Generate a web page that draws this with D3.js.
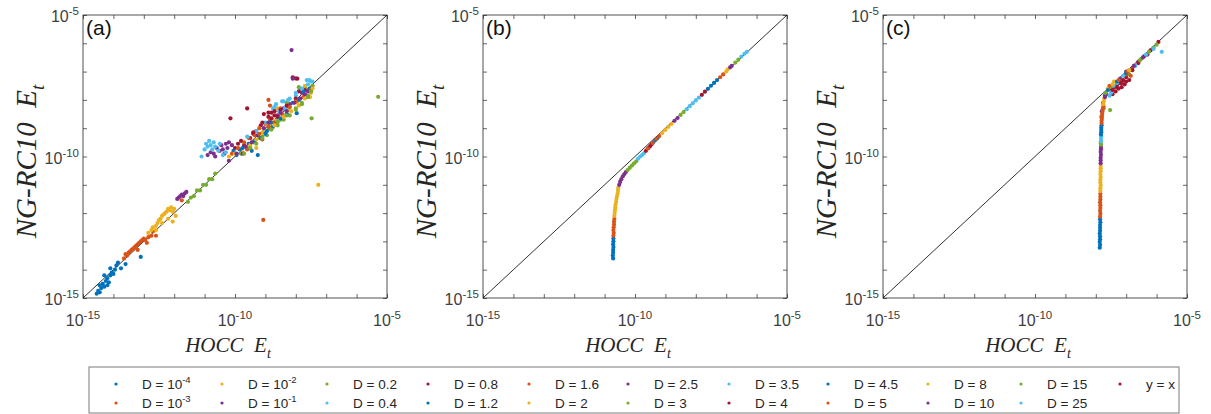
<!DOCTYPE html>
<html><head><meta charset="utf-8">
<script src="https://cdn.jsdelivr.net/npm/d3@7"></script>
<style>body{margin:0;background:#fff;}svg{display:block;}</style>
</head><body>
<svg id="chart" width="1211" height="414"></svg>
<script>
// ---------- DATA (values are log10 exponents) ----------
const legendLabels = ["D = 10^-4","D = 10^-3","D = 10^-2","D = 10^-1","D = 0.2","D = 0.4","D = 0.8","D = 1.2","D = 1.6","D = 2","D = 2.5","D = 3","D = 3.5","D = 4","D = 4.5","D = 5","D = 8","D = 10","D = 15","D = 25","y = x"];
const palette = ["#0072BD","#D95319","#EDB120","#7E2F8E","#77AC30","#4DBEEE","#A2142F"];
const panelLetters = ["(a)","(b)","(c)"];
const decadeExps = [-15,-14,-13,-12,-11,-10,-9,-8,-7,-6,-5];
const labelExps = [-15,-10,-5];
const xTitle = ["HOCC", "E", "t"];
const yTitle = ["NG-RC10", "E", "t"];

const panelA = [
 [[-14.55,-14.85],[-14.5,-14.75],[-14.45,-14.8],[-14.4,-14.65],[-14.35,-14.5],[-14.3,-14.6],[-14.25,-14.4],[-14.2,-14.3],[-14.15,-14.45],[-14.1,-14.2],[-14.05,-14.1],[-14.0,-14.15],[-13.95,-14.0],[-13.9,-13.85],[-13.85,-13.75],[-14.3,-14.2],[-14.1,-13.95],[-13.75,-13.95],[-13.6,-13.8],[-13.1,-13.55],[-14.45,-14.55],[-14.2,-14.55]],
 [[-13.65,-13.6],[-13.6,-13.45],[-13.55,-13.5],[-13.5,-13.4],[-13.45,-13.35],[-13.4,-13.3],[-13.35,-13.25],[-13.3,-13.2],[-13.25,-13.15],[-13.2,-13.1],[-13.15,-13.05],[-13.1,-13.0],[-13.05,-12.95],[-13.0,-12.9],[-12.95,-12.95],[-12.85,-12.85],[-12.75,-12.8],[-12.7,-12.65],[-13.2,-13.3],[-12.9,-13.05],[-12.6,-12.8],[-9.07,-12.24],[-11.75,-11.55]],
 [[-12.85,-12.7],[-12.75,-12.6],[-12.7,-12.5],[-12.6,-12.45],[-12.55,-12.35],[-12.5,-12.25],[-12.45,-12.2],[-12.4,-12.1],[-12.35,-12.05],[-12.3,-12.0],[-12.25,-11.95],[-12.2,-11.85],[-12.15,-11.9],[-12.1,-11.8],[-12.05,-11.95],[-12.0,-11.85],[-12.4,-12.35],[-12.2,-12.2],[-12.6,-12.6],[-11.95,-12.1],[-12.05,-12.3],[-7.26,-11.0],[-9.3,-9.7],[-8.6,-8.3]],
 [[-11.9,-11.5],[-11.85,-11.45],[-11.8,-11.4],[-11.75,-11.35],[-11.7,-11.4],[-11.65,-11.3],[-11.6,-11.25],[-10.9,-9.95],[-10.8,-9.85],[-10.7,-9.9],[-10.6,-9.7],[-10.5,-9.8],[-10.45,-9.6],[-10.4,-9.75],[-10.3,-9.55],[-10.25,-9.7],[-10.2,-9.5],[-10.1,-9.6],[-10.65,-10.0],[-10.35,-9.9],[-8.14,-6.24],[-8.0,-7.24]],
 [[-11.55,-11.6],[-11.45,-11.45],[-11.35,-11.4],[-11.25,-11.2],[-11.15,-11.2],[-11.05,-11.0],[-10.95,-11.0],[-10.85,-10.8],[-10.75,-10.8],[-10.65,-10.6],[-9.8,-9.9],[-9.6,-9.7],[-9.4,-9.5],[-9.2,-9.35],[-9.0,-9.15],[-8.9,-9.05],[-8.8,-8.95],[-8.6,-8.8],[-8.5,-8.7],[-8.3,-8.5],[-9.5,-9.7],[-9.1,-9.3],[-5.29,-7.89],[-7.48,-8.65],[-7.7,-7.55]],
 [[-11.0,-9.75],[-10.95,-9.55],[-10.9,-9.65],[-10.85,-9.45],[-10.8,-9.6],[-10.75,-9.75],[-10.7,-9.5],[-10.65,-9.65],[-10.55,-9.8],[-10.5,-9.55],[-10.4,-9.95],[-10.3,-9.85],[-11.1,-10.0]],
 [[-10.0,-9.7],[-9.9,-9.55],[-9.8,-9.45],[-9.7,-9.6],[-9.6,-8.3],[-9.5,-9.35],[-9.4,-9.2],[-9.3,-9.1],[-9.15,-8.9],[-9.05,-8.5],[-8.9,-8.6],[-8.8,-8.45],[-8.7,-8.55],[-10.15,-8.65],[-8.1,-7.2]],
 [[-10.05,-9.8],[-9.95,-9.95],[-9.85,-9.75],[-9.75,-9.7],[-9.55,-9.55],[-9.35,-9.45],[-9.15,-9.35],[-8.95,-9.1],[-8.75,-8.95],[-9.45,-9.8],[-9.25,-9.95],[-7.97,-8.47]],
 [[-10.1,-9.9],[-9.9,-9.7],[-9.7,-9.5],[-9.55,-9.35],[-9.35,-9.25],[-9.2,-9.0],[-9.0,-8.85],[-8.85,-8.7],[-9.6,-9.75],[-9.1,-9.4],[-8.5,-8.3],[-8.9,-8.0]],
 [[-10.2,-10.0],[-10.0,-9.9],[-9.75,-9.85],[-9.5,-9.6],[-9.3,-9.4],[-9.1,-9.15],[-8.9,-8.9],[-8.7,-8.75],[-8.45,-8.5],[-8.25,-8.35],[-7.95,-8.1],[-7.53,-7.9],[-7.45,-7.5]],
 [[-10.2,-10.15],[-9.95,-9.9],[-9.75,-9.9],[-9.65,-9.65],[-9.45,-9.5],[-9.25,-9.25],[-9.05,-9.0],[-8.85,-8.8],[-8.6,-8.55],[-8.4,-8.3],[-8.2,-8.15],[-7.8,-7.75],[-8.1,-7.25]],
 [[-9.7,-9.9],[-9.5,-9.7],[-9.3,-9.55],[-9.1,-9.35],[-8.95,-9.25],[-8.8,-9.05],[-8.6,-8.9],[-8.4,-8.7],[-8.2,-8.55],[-8.0,-8.35],[-7.8,-8.1],[-7.6,-7.85],[-7.45,-7.5],[-8.3,-8.1]],
 [[-9.6,-9.3],[-9.3,-9.1],[-9.0,-8.8],[-8.75,-8.3],[-8.65,-8.15],[-8.55,-8.4],[-8.45,-8.05],[-8.35,-8.3],[-8.25,-8.0],[-8.2,-8.25],[-8.0,-7.85],[-7.64,-7.3],[-7.5,-7.35],[-7.85,-7.6]],
 [[-9.4,-9.15],[-9.1,-8.8],[-8.9,-8.45],[-8.8,-8.65],[-8.7,-8.4],[-8.6,-8.6],[-8.5,-8.35],[-8.3,-8.2],[-8.0,-7.95],[-7.9,-7.7],[-7.7,-7.65],[-7.95,-7.25]],
 [[-9.0,-9.2],[-8.8,-8.8],[-8.5,-8.65],[-8.3,-8.5],[-8.1,-8.1],[-7.9,-8.0],[-7.75,-7.7],[-7.55,-7.6]],
 [[-9.2,-9.2],[-8.9,-8.95],[-8.7,-8.8],[-8.45,-8.5],[-8.2,-8.25],[-8.0,-8.05],[-7.75,-7.9],[-7.5,-7.65],[-8.85,-8.2]],
 [[-8.7,-8.9],[-8.4,-8.6],[-8.15,-8.4],[-7.9,-8.2],[-7.7,-7.95],[-7.5,-7.75],[-7.45,-7.6],[-7.7,-7.5]],
 [[-8.9,-8.8],[-8.5,-8.45],[-8.3,-8.4],[-8.05,-8.1],[-7.85,-7.95],[-7.6,-7.7],[-7.7,-7.8]],
 [[-8.6,-8.75],[-8.3,-8.55],[-8.0,-8.3],[-7.8,-8.15],[-7.6,-7.9],[-7.9,-7.55],[-7.5,-7.7]],
 [[-8.7,-8.25],[-8.4,-8.05],[-8.2,-7.95],[-8.0,-7.75],[-7.8,-7.6],[-7.6,-7.45],[-7.55,-7.3],[-7.45,-7.35]]
];

const panelB = [
 [[-10.72,-13.6],[-10.73,-13.5],[-10.72,-13.4],[-10.72,-13.3],[-10.71,-13.2],[-10.72,-13.1],[-10.71,-13.0],[-10.71,-12.9]],
 [[-10.71,-12.8],[-10.7,-12.7],[-10.71,-12.6],[-10.7,-12.5],[-10.69,-12.4],[-10.69,-12.3],[-10.68,-12.2]],
 [[-10.68,-12.1],[-10.67,-12.0],[-10.66,-11.9],[-10.65,-11.8],[-10.64,-11.7],[-10.62,-11.6],[-10.61,-11.5],[-10.59,-11.4],[-10.57,-11.3],[-10.56,-11.2],[-10.55,-11.1]],
 [[-10.52,-11.0],[-10.49,-10.9],[-10.45,-10.8],[-10.4,-10.7],[-10.35,-10.62],[-10.3,-10.55]],
 [[-10.24,-10.48],[-10.17,-10.4],[-10.1,-10.32],[-10.03,-10.24],[-9.96,-10.17]],
 [[-9.9,-10.08],[-9.83,-10.0],[-9.76,-9.94],[-9.7,-9.88]],
 [[-9.64,-9.8],[-9.56,-9.7],[-9.5,-9.63],[-9.45,-9.56]],
 [[-9.4,-9.5],[-9.33,-9.42],[-9.26,-9.35]],
 [[-9.58,-9.72],[-9.42,-9.52],[-9.3,-9.38],[-9.2,-9.28]],
 [[-9.1,-9.17],[-9.0,-9.06],[-8.9,-8.95],[-8.8,-8.85]],
 [[-8.7,-8.74],[-8.6,-8.64]],
 [[-8.5,-8.53],[-8.4,-8.43]],
 [[-8.3,-8.33],[-8.2,-8.22],[-8.1,-8.12],[-8.0,-8.02],[-7.9,-7.92]],
 [[-7.8,-7.82],[-7.7,-7.71]],
 [[-7.6,-7.61],[-7.5,-7.5],[-7.4,-7.4],[-7.3,-7.3]],
 [[-7.2,-7.2],[-7.1,-7.1]],
 [[-7.0,-7.0],[-6.95,-6.92]],
 [[-6.87,-6.85],[-6.82,-6.8]],
 [[-6.7,-6.68],[-6.6,-6.58]],
 [[-6.5,-6.47],[-6.4,-6.37],[-6.32,-6.3]]
];

const panelC = [
 [[-7.87,-13.22],[-7.86,-13.12],[-7.87,-13.02],[-7.86,-12.92],[-7.86,-12.82],[-7.87,-12.72],[-7.86,-12.62],[-7.86,-12.52],[-7.86,-12.42],[-7.85,-12.32],[-7.86,-12.22]],
 [[-7.86,-12.12],[-7.85,-12.02],[-7.86,-11.92],[-7.85,-11.82],[-7.85,-11.72],[-7.86,-11.62],[-7.85,-11.52],[-7.85,-11.42],[-7.85,-11.32]],
 [[-7.85,-11.22],[-7.85,-11.12],[-7.84,-11.02],[-7.85,-10.92],[-7.85,-10.82],[-7.84,-10.72],[-7.85,-10.62],[-7.84,-10.52],[-7.84,-10.42],[-7.84,-10.34]],
 [[-7.84,-10.24],[-7.84,-10.14],[-7.84,-10.04],[-7.83,-9.94],[-7.84,-9.84],[-7.83,-9.74],[-7.83,-9.66],[-7.8,-8.4],[-7.76,-8.1],[-7.0,-7.0],[-7.2,-7.25]],
 [[-7.83,-9.58],[-7.84,-9.52],[-7.82,-8.6],[-7.74,-8.3],[-7.53,-8.36],[-6.9,-7.1]],
 [[-7.83,-9.46],[-7.83,-9.38],[-7.82,-9.3]],
 [[-7.5,-7.6],[-7.45,-7.8],[-7.4,-7.55],[-7.35,-7.7],[-7.3,-7.45],[-7.25,-7.6],[-7.2,-7.4],[-7.15,-7.55],[-7.1,-7.3],[-7.05,-7.45],[-7.0,-7.2],[-6.9,-7.3]],
 [[-7.83,-9.22],[-7.82,-9.14],[-7.82,-9.06],[-7.82,-8.98],[-7.81,-8.9],[-7.7,-7.85]],
 [[-7.81,-8.82],[-7.81,-8.74],[-7.8,-8.66],[-7.8,-8.58],[-7.79,-8.5],[-7.78,-8.42],[-7.77,-8.32],[-7.75,-8.22],[-7.0,-7.1],[-6.8,-6.9]],
 [[-7.76,-8.15],[-7.74,-8.05],[-7.72,-7.95],[-7.6,-7.6],[-7.4,-7.35]],
 [[-7.7,-7.9],[-7.65,-7.8],[-7.2,-7.3],[-6.6,-6.65],[-6.3,-6.4]],
 [[-7.68,-7.75],[-7.5,-7.55],[-6.5,-6.55],[-6.1,-6.15]],
 [[-7.55,-7.85],[-7.5,-7.75],[-7.4,-7.5],[-7.3,-7.4],[-7.1,-7.15],[-6.9,-6.95],[-6.7,-6.8]],
 [[-7.45,-7.65],[-7.3,-7.55],[-7.15,-7.4],[-7.0,-7.35],[-6.8,-6.95],[-6.6,-6.7],[-6.4,-6.45],[-6.2,-6.25],[-5.94,-5.95]],
 [[-7.6,-7.65],[-7.3,-7.35],[-7.0,-7.05]],
 [[-7.55,-7.5],[-7.25,-7.3],[-6.95,-7.0],[-6.85,-7.15]],
 [[-7.45,-7.45],[-6.9,-6.95]],
 [[-6.75,-6.8],[-6.45,-6.5]],
 [[-6.55,-6.6],[-6.25,-6.3],[-6.0,-6.05]],
 [[-6.35,-6.4],[-6.1,-6.2],[-5.83,-6.3]]
];
const panels = [panelA, panelB, panelC];

// ---------- DRAWING ----------
const svg = d3.select("#chart");
const axisColor = "#262626";
const labelColor = "#404040";
const plotW = 304, plotTop = 15, plotBottom = 298;
const panelLefts = [83, 483, 883];
const colorOf = i => palette[i % palette.length];
const sansFont = "Arial, 'Liberation Sans', sans-serif";
const serifFont = "'Liberation Serif', 'Times New Roman', serif";

function supLabel(g, x, y, base, sup, size, supSize, anchor) {
  const t = g.append("text").attr("x", x).attr("y", y)
    .attr("font-family", sansFont)
    .attr("font-size", size).attr("fill", labelColor).attr("text-anchor", anchor);
  t.append("tspan").text(base);
  if (sup) t.append("tspan").attr("dy", -size*0.42).attr("font-size", supSize).text(sup);
  return t;
}

panels.forEach((data, p) => {
  const left = panelLefts[p];
  const x = d3.scaleLog().domain([1e-15, 1e-5]).range([left, left + plotW]);
  const y = d3.scaleLog().domain([1e-15, 1e-5]).range([plotBottom, plotTop]);
  const g = svg.append("g");
  const decs = decadeExps.map(e => Math.pow(10, e));

  // frame
  g.append("rect").attr("x", left).attr("y", plotTop).attr("width", plotW).attr("height", plotBottom - plotTop)
    .attr("fill", "none").attr("stroke", axisColor).attr("stroke-width", 0.8);

  // ticks on all sides (inward)
  const mk = (axis, tr) => {
    const a = g.append("g").attr("transform", tr).call(axis.tickValues(decs).tickSize(-4).tickFormat(""));
    a.select(".domain").remove();
    a.selectAll("line").attr("stroke", axisColor).attr("stroke-width", 0.7);
  };
  mk(d3.axisBottom(x), `translate(0,${plotBottom})`);
  mk(d3.axisTop(x), `translate(0,${plotTop})`);
  mk(d3.axisLeft(y), `translate(${left},0)`);
  mk(d3.axisRight(y), `translate(${left + plotW},0)`);

  // tick labels
  labelExps.forEach(e => {
    supLabel(g, x(Math.pow(10, e)), 326, "10", String(e), 16, 11.5, "middle");
    supLabel(g, left - 4, y(Math.pow(10, e)) + 7, "10", String(e), 16, 11.5, "end");
  });

  // y = x line
  g.append("line").attr("x1", x(1e-15)).attr("y1", y(1e-15)).attr("x2", x(1e-5)).attr("y2", y(1e-5))
    .attr("stroke", "#1a1a1a").attr("stroke-width", 0.9);

  // points
  data.forEach((series, i) => {
    g.append("g").selectAll("circle").data(series).join("circle")
      .attr("cx", d => x(Math.pow(10, d[0]))).attr("cy", d => y(Math.pow(10, d[1])))
      .attr("r", 2.1).attr("fill", colorOf(i));
  });

  // panel letter
  g.append("text").attr("x", left + 3).attr("y", plotTop + 20).text(panelLetters[p])
    .attr("font-family", sansFont).attr("font-size", 21).attr("fill", "#111");

  // x title
  const cx = left + plotW / 2 - 7;
  const xt = g.append("text").attr("x", cx).attr("y", 352).attr("text-anchor", "middle")
    .attr("font-family", serifFont).attr("font-style", "italic")
    .attr("font-size", 21).attr("fill", "#262626");
  xt.append("tspan").text(xTitle[0] + "\u00a0\u00a0" + xTitle[1]);
  xt.append("tspan").attr("dy", 6).attr("font-size", 14).text(xTitle[2]);

  // y title
  const cy = (plotTop + plotBottom) / 2;
  const yt = g.append("text").attr("transform", `translate(${left - 47},${cy + 5}) rotate(-90)`)
    .attr("text-anchor", "middle")
    .attr("font-family", serifFont).attr("font-style", "italic")
    .attr("font-size", 29).attr("fill", "#262626");
  yt.append("tspan").text(yTitle[0] + "\u00a0\u00a0" + yTitle[1]);
  yt.append("tspan").attr("dy", 8).attr("font-size", 19).text(yTitle[2]);
});

// ---------- LEGEND ----------
const leg = svg.append("g");
leg.append("rect").attr("x", 89).attr("y", 367).attr("width", 1090).attr("height", 46)
  .attr("fill", "#fff").attr("stroke", "#7a7a7a").attr("stroke-width", 1);
const colMarkerX = [116, 222, 327, 428, 529, 628, 729, 828, 928, 1021, 1120];
const rowY = [384, 403];
legendLabels.forEach((lab, i) => {
  const col = Math.floor(i / 2), row = i % 2;
  const mx = colMarkerX[col];
  leg.append("circle").attr("cx", mx).attr("cy", rowY[row]).attr("r", 1.6).attr("fill", colorOf(i));
  const parts = lab.split("^");
  supLabel(leg, mx + 26, rowY[row] + 5, parts[0], parts[1], 13.5, 9.5, "start").attr("fill", "#262626");
});
</script>
</body></html>
